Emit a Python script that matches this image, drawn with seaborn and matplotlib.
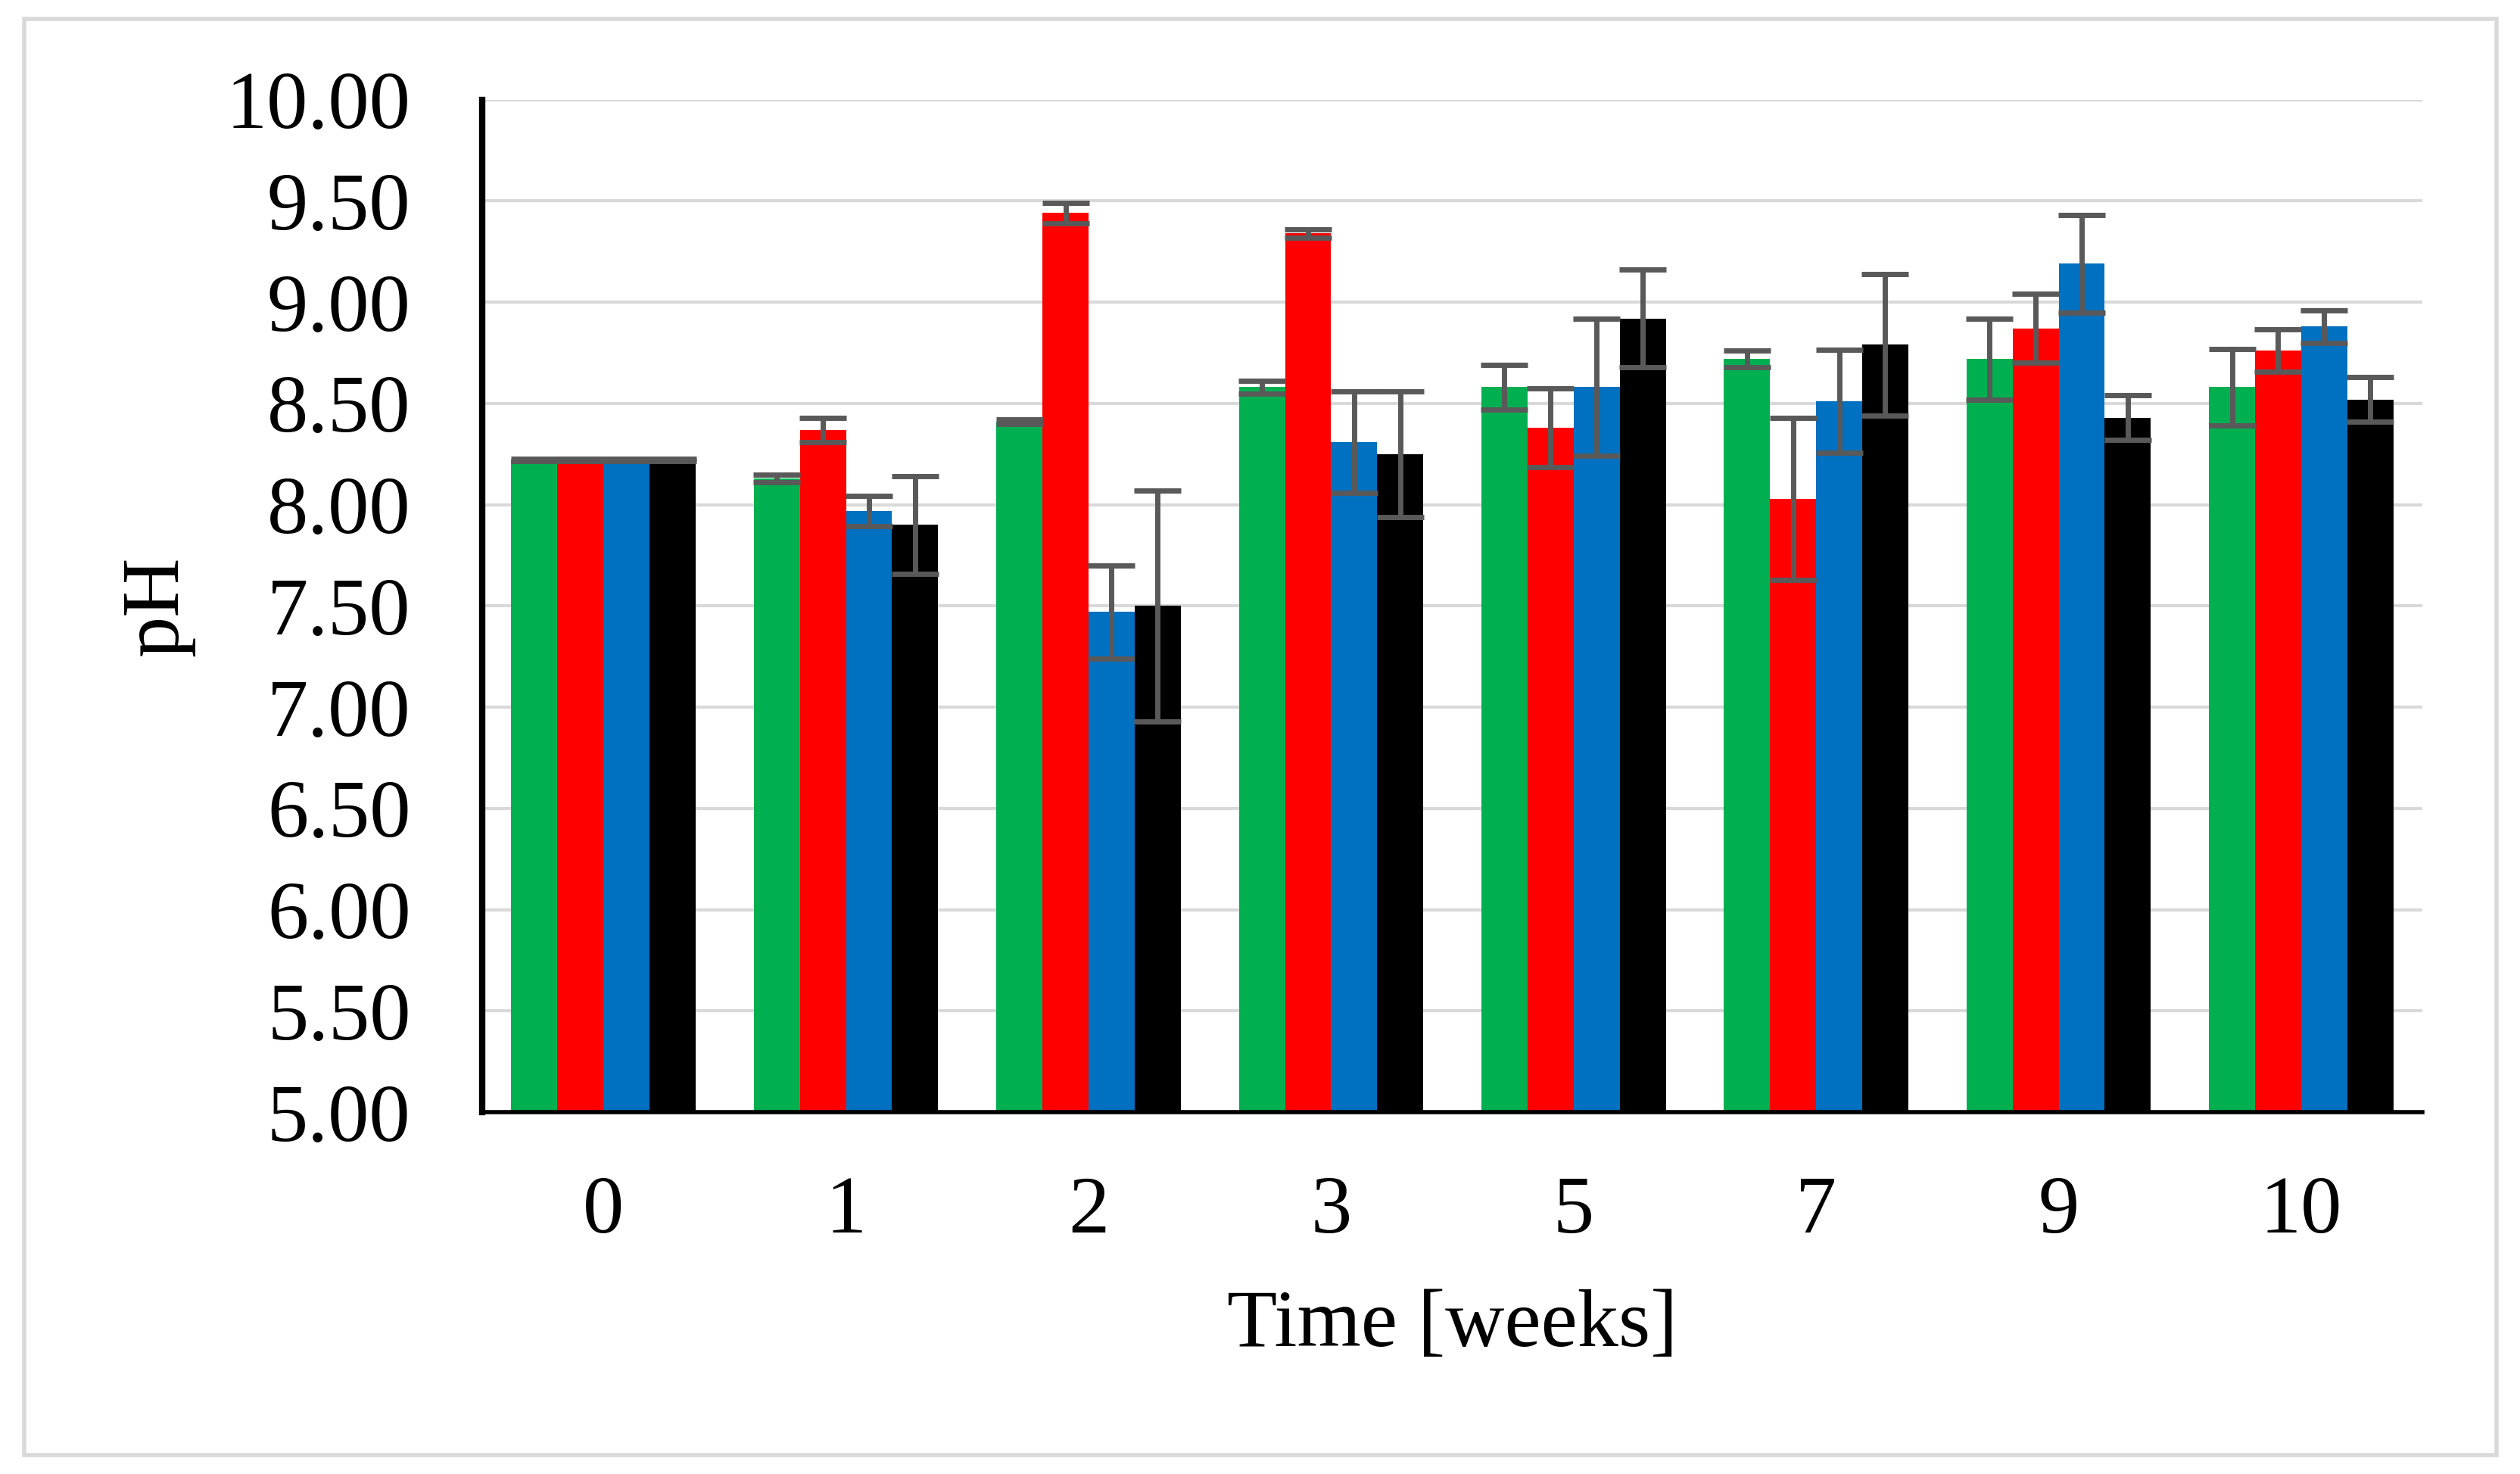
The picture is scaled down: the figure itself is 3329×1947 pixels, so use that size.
import matplotlib
matplotlib.use("Agg")
import matplotlib.pyplot as plt
import seaborn as sns
import pandas as pd
import numpy as np
from matplotlib.patches import Rectangle

# pH of four samples over time
weeks = ["0", "1", "2", "3", "5", "7", "9", "10"]
series = ["S1", "S2", "S3", "S4"]
colors = ["#00B050", "#FF0000", "#0070C0", "#000000"]

s1_mean = [8.22, 8.13, 8.41, 8.58, 8.58, 8.72, 8.72, 8.58]
s2_mean = [8.22, 8.37, 9.44, 9.34, 8.38, 8.03, 8.87, 8.76]
s3_mean = [8.22, 7.97, 7.47, 8.31, 8.58, 8.51, 9.19, 8.88]
s4_mean = [8.22, 7.90, 7.50, 8.25, 8.92, 8.79, 8.43, 8.52]

s1_err = [0.005, 0.02, 0.01, 0.03, 0.11, 0.04, 0.20, 0.19]
s2_err = [0.005, 0.06, 0.05, 0.02, 0.195, 0.40, 0.17, 0.105]
s3_err = [0.005, 0.075, 0.23, 0.25, 0.34, 0.255, 0.24, 0.08]
s4_err = [0.005, 0.24, 0.57, 0.31, 0.24, 0.35, 0.11, 0.11]

means = [s1_mean, s2_mean, s3_mean, s4_mean]
errs = [s1_err, s2_err, s3_err, s4_err]

df = pd.DataFrame({
    "week": np.tile(weeks, len(series)),
    "series": np.repeat(series, len(weeks)),
    "pH": np.concatenate(means),
})

sns.set_style("white")
plt.rcParams["font.family"] = ["Liberation Serif", "DejaVu Serif"]

fig = plt.figure(figsize=(16.65, 9.735), dpi=200)
ax = fig.add_axes([0.1913, 0.2454, 0.7697, 0.687])

sns.barplot(data=df, x="week", y="pH", hue="series", order=weeks, hue_order=series,
            palette=colors, saturation=1, width=0.76, gap=0, errorbar=None,
            linewidth=0, legend=False, ax=ax, zorder=2)

# error bars placed on the bar centres seaborn computed
for cont, err in zip(ax.containers, errs):
    xs = [p.get_x() + p.get_width() / 2 for p in cont.patches]
    ys = [p.get_height() + p.get_y() for p in cont.patches]
    ax.errorbar(xs, ys, yerr=err, fmt="none", ecolor="#595959",
                elinewidth=2.5, capsize=11, capthick=2.5, zorder=3)

ax.set_ylim(5, 10)
ax.set_xlim(-0.5, len(weeks) - 0.5)
ax.set_yticks(np.arange(5, 10.01, 0.5))
ax.set_yticklabels([f"{v:.2f}" for v in np.arange(5, 10.01, 0.5)])
ax.yaxis.grid(True, color="#d9d9d9", linewidth=1.5, zorder=0)
ax.set_axisbelow(True)

ax.tick_params(axis="both", length=0, labelsize=39, colors="black")
ax.tick_params(axis="y", pad=34)
ax.tick_params(axis="x", pad=30)

for s in ["top", "right"]:
    ax.spines[s].set_visible(False)
ax.spines["left"].set_color("black")
ax.spines["left"].set_linewidth(3)
ax.spines["bottom"].set_color("black")
ax.spines["bottom"].set_linewidth(2)

ax.set_xlabel("Time [weeks]", fontsize=39, color="black")
ax.set_ylabel("pH", fontsize=39, color="black")
ax.xaxis.set_label_coords(0.5, -0.175)
ax.yaxis.set_label_coords(-0.148, 0.5)

# light grey frame around the whole chart
fig.patches.append(Rectangle((0.0096, 0.013), 0.9808, 0.974, transform=fig.transFigure,
                             fill=False, edgecolor="#d9d9d9", linewidth=2))

fig.savefig("out.png", dpi=200, facecolor="white")
